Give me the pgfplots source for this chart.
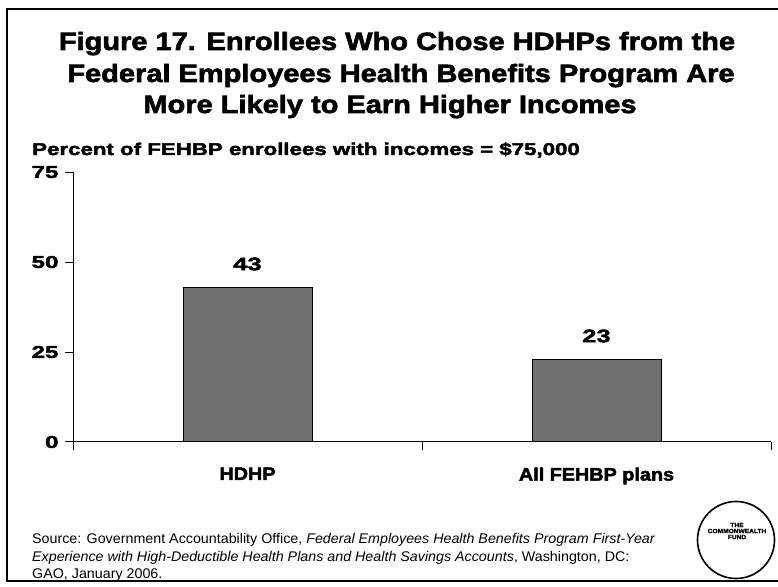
\documentclass[border=0pt]{standalone}
\usepackage{pgfplots}
\pgfplotsset{compat=1.18}
\usepackage{fontspec}
\setmainfont{Liberation Sans}
\newfontfamily\titlefont{Liberation Sans Bold}[FakeBold=2.5, FakeStretch=1.16]
\newfontfamily\labfont{Liberation Sans Bold}[FakeBold=2.5, FakeStretch=1.31]
\newfontfamily\numfont{Liberation Sans Bold}[FakeBold=2.5, FakeStretch=1.42]
\newfontfamily\catfont{Liberation Sans Bold}[FakeBold=2.5, FakeStretch=1.1]
\newfontfamily\srcfont{Liberation Sans}[FakeStretch=1.02]
\definecolor{barfill}{RGB}{112,112,112}
\begin{document}
\begin{tikzpicture}[x=1pt,y=1pt]
\useasboundingbox (0,0) rectangle (778,586);
\begin{scope}
\clip (0,0) rectangle (778,586);
\draw[line width=1.3pt] (790,577) -- (7,577) -- (7,5) -- (790,5);
\end{scope}
% title
\node[anchor=base, font=\titlefont\fontsize{25}{30}\selectfont, inner sep=0] at (397,536) {Figure 17. Enrollees Who Chose HDHPs from the};
\node[anchor=base, font=\titlefont\fontsize{25}{30}\selectfont, inner sep=0] at (401,504) {Federal Employees Health Benefits Program Are};
\node[anchor=base, font=\titlefont\fontsize{25}{30}\selectfont, inner sep=0] at (390,473) {More Likely to Earn Higher Incomes};
% y label
\node[anchor=base west, font=\labfont\fontsize{17}{20}\selectfont, inner sep=0] at (32,431) {Percent of FEHBP enrollees with incomes = \$75,000};
\begin{axis}[
  at={(73pt,144pt)}, anchor=south west,
  scale only axis, width=698pt, height=270pt,
  xmin=-0.5, xmax=1.5, ymin=0, ymax=75,
  axis x line*=bottom, axis y line*=left,
  axis line style={line width=1pt,-},
  every tick/.style={black, line width=1pt},
  tick align=outside, major tick length=8pt,
  ytick={0,25,50,75},
  xtick={-0.5,0.5,1.5}, xticklabels={},
  extra x ticks={0,1},
  extra x tick labels={HDHP, All FEHBP plans},
  extra x tick style={major tick length=0pt, xticklabel style={yshift=-22pt}},
  /pgf/number format/assume math mode=true,
  yticklabel style={font=\numfont\fontsize{17}{20}\selectfont, xshift=-3pt},
  xticklabel style={font=\catfont\fontsize{18}{21}\selectfont},
  clip=false,
]
\addplot[ybar, bar width=129pt, fill=barfill, draw=black, line width=1pt,
  nodes near coords,
  every node near coord/.append style={font=\numfont\fontsize{18}{21}\selectfont, yshift=13pt}]
  coordinates {(0,43) (1,23)};
\end{axis}
% source
\node[anchor=base west, font=\srcfont\fontsize{14}{16}\selectfont, inner sep=0] at (32,43) {Source: Government Accountability Office, \textit{Federal Employees Health Benefits Program First-Year}};
\node[anchor=base west, font=\srcfont\fontsize{14}{16}\selectfont, inner sep=0] at (32,25) {\textit{Experience with High-Deductible Health Plans and Health Savings Accounts}, Washington, DC:};
\node[anchor=base west, font=\srcfont\fontsize{14}{16}\selectfont, inner sep=0] at (32,8) {GAO, January 2006.};
% logo
\draw[line width=1.6pt] (736,46) circle (38.5);
\node[font=\catfont\fontsize{6}{7}\selectfont, inner sep=0] at (737,61) {THE};
\node[font=\catfont\fontsize{6}{7}\selectfont, inner sep=0] at (737,55) {COMMONWEALTH};
\node[font=\catfont\fontsize{6}{7}\selectfont, inner sep=0] at (737,49) {FUND};
\end{tikzpicture}
\end{document}
